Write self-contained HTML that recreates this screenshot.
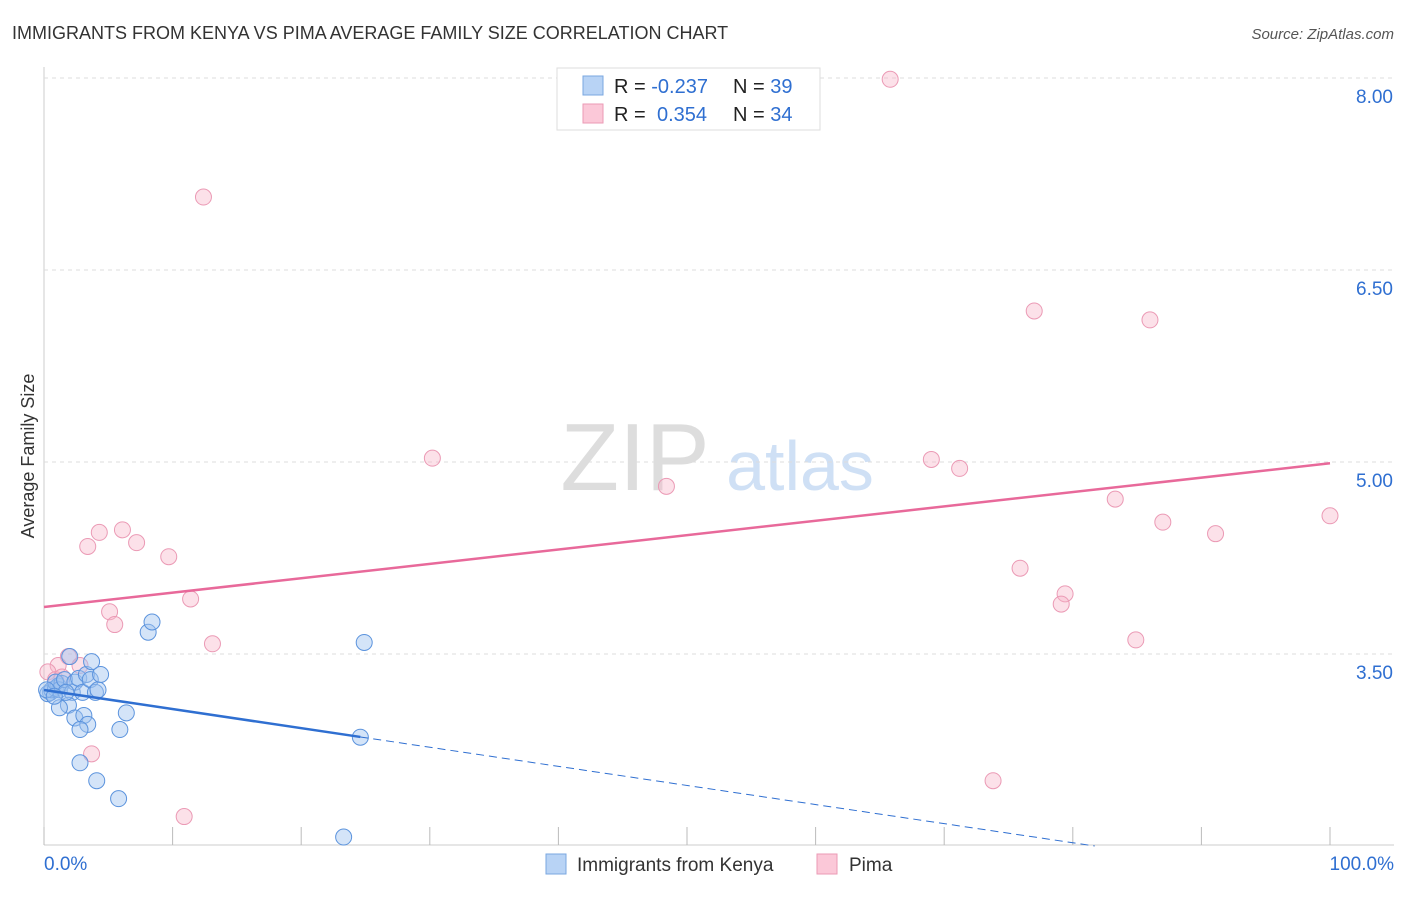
<!DOCTYPE html>
<html><head><meta charset="utf-8"><style>
body{margin:0;background:#fff;font-family:"Liberation Sans",sans-serif;}
svg text{font-family:"Liberation Sans",sans-serif;}
</style></head><body>
<svg id="c" width="1406" height="892">
<text x="12" y="39" font-size="18" fill="#333">IMMIGRANTS FROM KENYA VS PIMA AVERAGE FAMILY SIZE CORRELATION CHART</text>
<text x="1394" y="39" font-size="15" fill="#555" font-style="italic" text-anchor="end">Source: ZipAtlas.com</text>
<text x="34" y="456" font-size="18" fill="#333" transform="rotate(-90 34 456)" text-anchor="middle">Average Family Size</text>
<text x="635" y="490" font-size="96" fill="#ddd" font-family="Liberation Serif" text-anchor="middle">ZIP</text>
<text x="800" y="490" font-size="70" fill="#cfe0f5" text-anchor="middle">atlas</text>
<g id="grid"></g><g id="pts"></g><g id="lines"></g>
<g>
<rect x="557" y="68" width="263" height="62" fill="#fff" stroke="#ddd"/>
<rect x="583" y="76" width="20" height="19" fill="#b8d3f5" stroke="#7aa7e0"/>
<rect x="583" y="104" width="20" height="19" fill="#fbc8d8" stroke="#eb9ab5"/>
<text x="614" y="93" font-size="20" fill="#222">R = <tspan fill="#2f6fd1">-0.237</tspan><tspan x="733">N = </tspan><tspan fill="#2f6fd1">39</tspan></text>
<text x="614" y="121" font-size="20" fill="#222">R = <tspan x="657" fill="#2f6fd1">0.354</tspan><tspan x="733">N = </tspan><tspan fill="#2f6fd1">34</tspan></text>
</g>
<g>
<rect x="546" y="854" width="20" height="20" fill="#b8d3f5" stroke="#7aa7e0"/>
<text x="577" y="871" font-size="19" fill="#333">Immigrants from Kenya</text>
<rect x="817" y="854" width="20" height="20" fill="#fbc8d8" stroke="#eb9ab5"/>
<text x="849" y="871" font-size="19" fill="#333">Pima</text>
</g>
<text x="44" y="870" font-size="19" fill="#2f6fd1">0.0%</text>
<text x="1394" y="870" font-size="19" fill="#2f6fd1" text-anchor="end">100.0%</text>
</svg>
<script>
const yTicks=[8.0,6.5,5.0,3.5];
const yTickLabels=["8.00","6.50","5.00","3.50"];
const xTicks=[0,10,20,30,40,50,60,70,80,90,100];
const blueX=[0.5,0.3,0.6,0.9,1.1,1.4,1.2,0.9,1.6,2.0,2.2,2.4,2.7,3.0,3.3,3.6,3.7,4.0,4.2,4.4,1.9,1.2,2.4,3.1,3.4,2.8,6.4,5.9,2.8,4.1,5.8,8.1,8.4,24.9,24.6,23.3,1.7,0.2,0.8];
const blueY=[3.2,3.19,3.22,3.23,3.25,3.27,3.22,3.28,3.3,3.48,3.2,3.28,3.31,3.2,3.34,3.3,3.44,3.2,3.22,3.34,3.1,3.08,3.0,3.02,2.95,2.91,3.04,2.91,2.65,2.51,2.37,3.67,3.75,3.59,2.85,2.07,3.2,3.22,3.17];
const pinkX=[65.8,12.4,77.0,86.0,30.2,69.0,71.2,48.4,83.3,87.0,91.1,100,6.1,4.3,7.2,3.4,9.7,75.9,79.4,79.1,11.4,5.1,5.5,84.9,13.1,1.9,2.8,1.1,0.3,0.9,3.7,73.8,10.9,1.4];
const pinkY=[7.99,7.07,6.18,6.11,5.03,5.02,4.95,4.81,4.71,4.53,4.44,4.58,4.47,4.45,4.37,4.34,4.26,4.17,3.97,3.89,3.93,3.83,3.73,3.61,3.58,3.48,3.41,3.41,3.36,3.30,2.72,2.51,2.23,3.32];
const pinkLine=[3.867,4.99];
const blueLine=[3.219,-0.01492];
const blueSolidEnd=24.6;
const X=v=>44+v*12.86, Y=v=>78+(8-v)*128;
const ns="http://www.w3.org/2000/svg";
function mk(t,a,p){const e=document.createElementNS(ns,t);for(const k in a)e.setAttribute(k,a[k]);p.appendChild(e);return e;}
const g=document.getElementById('grid');
const ax=mk('line',{x1:44,y1:67,x2:44,y2:845,stroke:'#ccc'},g);


const bx=mk('line',{x1:44,y1:845,x2:1394,y2:845,stroke:'#ccc'},g);


yTicks.forEach((t,i)=>{
 const l=mk('line',{x1:44,y1:Y(t),x2:1394,y2:Y(t),stroke:'#ddd','stroke-dasharray':'4 4'},g);
 
 
 const tx=mk('text',{x:1393,y:Y(t)+25,'font-size':19,fill:'#2f6fd1','text-anchor':'end'},g);
 tx.textContent=yTickLabels[i];
 
 
});
xTicks.forEach(t=>{
 const l=mk('line',{x1:X(t),y1:827,x2:X(t),y2:845,stroke:'#bbb'},g);
 
 
});
const p=document.getElementById('pts');
pinkX.forEach((x,i)=>{
 const c=mk('circle',{cx:X(x),cy:Y(pinkY[i]),r:8,fill:'rgba(248,180,200,0.4)',stroke:'#eb9ab5','stroke-width':1},p);
 
 
});
blueX.forEach((x,i)=>{
 const c=mk('circle',{cx:X(x),cy:Y(blueY[i]),r:8,fill:'rgba(160,195,240,0.45)',stroke:'#5b93dd','stroke-width':1},p);
 
 
});
const L=document.getElementById('lines');
const pl=mk('line',{x1:X(0),y1:Y(pinkLine[0]),x2:X(100),y2:Y(pinkLine[1]),stroke:'#e8699a','stroke-width':2.5},L);


const bf=v=>blueLine[0]+blueLine[1]*v;
const bl=mk('line',{x1:X(0),y1:Y(bf(0)),x2:X(blueSolidEnd),y2:Y(bf(blueSolidEnd)),stroke:'#2f6fd1','stroke-width':2.5},L);


let xe=(2.0-blueLine[0])/blueLine[1];
const bd=mk('line',{x1:X(blueSolidEnd),y1:Y(bf(blueSolidEnd)),x2:X(xe),y2:Y(bf(xe)),stroke:'#2f6fd1','stroke-width':1,'stroke-dasharray':'8 5'},L);


</script>
</body></html>
